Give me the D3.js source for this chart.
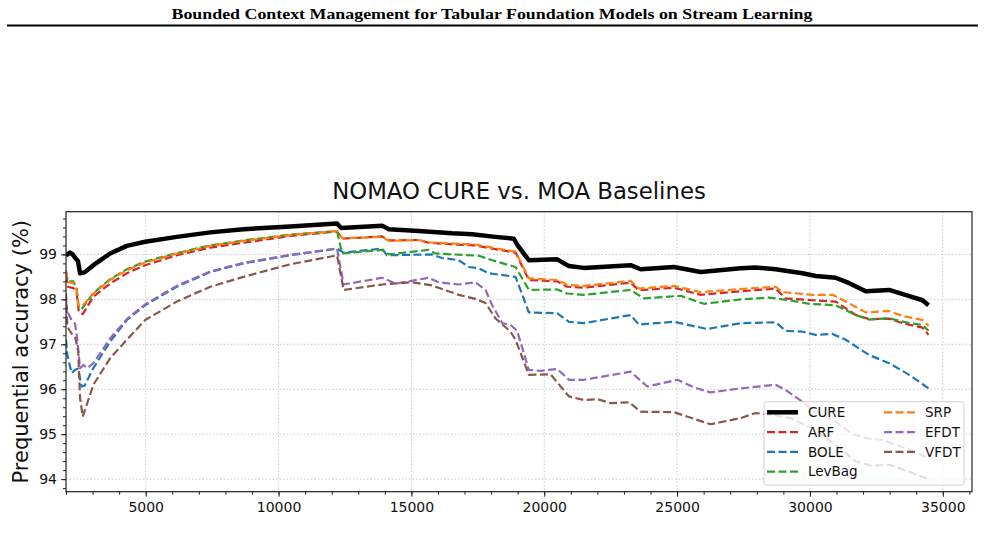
<!DOCTYPE html>
<html>
<head>
<meta charset="utf-8">
<script src="https://cdn.jsdelivr.net/npm/d3@7"></script>
<style>
  body { margin: 0; background: #fff; }
  svg { display: block; }
</style>
</head>
<body>
<div id="chart-area"></div>
<script>
// series data: [instances seen, prequential accuracy %]
var cure = [[2000,98.98],[2150,99.04],[2250,99.0],[2350,98.92],[2450,98.85],[2530,98.58],[2700,98.6],[3030,98.76],[3660,99.02],[4290,99.19],[4980,99.28],[6170,99.39],[7430,99.49],[8680,99.56],[10440,99.62],[12200,99.69],[12350,99.59],[13900,99.64],[14150,99.56],[15270,99.52],[16530,99.47],[17290,99.45],[18160,99.39],[18850,99.35],[19000,99.2],[19420,98.87],[20490,98.89],[20930,98.74],[21490,98.70],[23250,98.76],[23630,98.67],[24880,98.72],[25890,98.61],[27400,98.69],[27960,98.71],[28710,98.67],[29720,98.58],[30220,98.52],[30970,98.48],[31480,98.36],[32100,98.18],[32980,98.21],[33740,98.07],[34240,97.98],[34465,97.87]];
var arf = [[2000,98.55],[2070,98.28],[2280,98.25],[2400,98.15],[2480,97.72],[2630,97.67],[3030,98.06],[3660,98.35],[4290,98.58],[4980,98.76],[6170,98.98],[7430,99.15],[8680,99.26],[10440,99.41],[12200,99.51],[12400,99.35],[13900,99.40],[14150,99.31],[15270,99.32],[15650,99.26],[16660,99.22],[17410,99.20],[18040,99.13],[18920,99.04],[19420,98.43],[20490,98.40],[20860,98.28],[21490,98.26],[23250,98.37],[23560,98.20],[24880,98.26],[25890,98.10],[27400,98.18],[28710,98.24],[29090,98.02],[30100,97.98],[30970,97.95],[31730,97.65],[32230,97.56],[32980,97.57],[33490,97.47],[34240,97.37],[34465,97.21]];
var bole = [[2000,97.10],[2050,96.76],[2210,96.36],[2340,96.43],[2450,96.46],[2590,96.06],[2700,96.08],[3030,96.47],[3660,97.06],[4290,97.54],[4980,97.87],[6170,98.28],[7430,98.61],[8680,98.80],[10440,98.98],[12200,99.13],[12450,99.04],[13900,99.13],[14080,98.98],[15770,99.00],[16150,98.92],[16780,98.87],[17160,98.72],[17540,98.69],[17910,98.58],[18920,98.50],[19420,97.71],[20490,97.69],[20930,97.50],[21490,97.47],[23250,97.65],[23560,97.44],[24880,97.50],[26130,97.34],[27400,97.47],[28710,97.49],[29090,97.30],[29720,97.28],[30220,97.21],[30850,97.23],[31350,97.10],[32230,96.76],[32980,96.58],[33740,96.32],[34465,96.02]];
var levbag = [[2000,98.62],[2070,98.40],[2280,98.40],[2400,98.25],[2480,97.82],[2590,97.78],[3030,98.14],[3660,98.45],[4290,98.67],[4980,98.84],[6170,99.03],[7430,99.20],[8680,99.31],[10440,99.44],[12200,99.52],[12390,99.02],[13900,99.10],[14150,99.00],[15650,99.10],[15900,99.02],[17540,98.97],[18040,98.87],[18920,98.72],[19420,98.21],[20490,98.22],[20860,98.13],[21490,98.10],[23250,98.21],[23750,98.02],[25130,98.08],[26010,97.90],[27400,98.00],[28460,98.04],[29210,97.98],[29970,97.90],[30970,97.87],[31730,97.65],[32230,97.55],[32980,97.58],[33740,97.47],[34240,97.43],[34465,97.30]];
var srp = [[2000,98.65],[2070,98.38],[2280,98.36],[2400,98.21],[2460,97.87],[2590,97.84],[3030,98.13],[3660,98.43],[4290,98.65],[4980,98.82],[6170,99.02],[7430,99.19],[8680,99.30],[10440,99.43],[12200,99.52],[12400,99.36],[13900,99.39],[14150,99.30],[15270,99.32],[15650,99.27],[16660,99.24],[17410,99.22],[18040,99.15],[18920,99.06],[19420,98.47],[20490,98.43],[20860,98.32],[21490,98.30],[23250,98.41],[23560,98.24],[24880,98.30],[25890,98.16],[27400,98.23],[28710,98.28],[28970,98.16],[30100,98.10],[30850,98.10],[31350,97.95],[32100,97.71],[32980,97.74],[33490,97.63],[34240,97.54],[34465,97.41]];
var efdt = [[2000,97.95],[2050,97.73],[2210,97.54],[2340,97.46],[2420,97.13],[2530,96.47],[2650,96.54],[2800,96.47],[3030,96.58],[3660,97.13],[4290,97.56],[4980,97.89],[6170,98.30],[7430,98.62],[8680,98.81],[10440,98.99],[12200,99.13],[12450,98.33],[13900,98.48],[14400,98.35],[15650,98.48],[16030,98.38],[16780,98.33],[17410,98.38],[17790,98.21],[18040,97.87],[18420,97.47],[18730,97.43],[18980,97.30],[19420,96.43],[19850,96.41],[20490,96.45],[20930,96.21],[21490,96.21],[23250,96.39],[23880,96.06],[25010,96.21],[25640,96.04],[26260,95.93],[27400,96.02],[28710,96.10],[29090,95.98],[29720,95.72],[30220,95.50],[30970,95.28],[31600,95.00],[32230,94.90],[32730,94.87],[33240,94.76],[33990,94.60],[34465,94.45]];
var vfdt = [[2000,98.13],[2050,97.39],[2210,97.24],[2340,97.17],[2460,96.84],[2530,95.80],[2630,95.39],[3030,96.10],[3660,96.69],[4290,97.10],[4980,97.54],[6170,97.95],[7430,98.28],[8680,98.50],[10440,98.78],[12200,98.98],[12450,98.21],[13900,98.33],[15000,98.38],[15770,98.31],[16780,98.10],[17410,98.01],[17790,97.92],[18160,97.58],[18730,97.28],[18920,97.10],[19420,96.32],[20240,96.33],[20930,95.84],[21490,95.76],[22000,95.78],[22500,95.69],[23200,95.71],[23630,95.50],[24880,95.49],[26260,95.22],[27400,95.36],[27960,95.47],[28590,95.43],[29300,95.35],[30200,95.10],[31000,94.75],[31700,94.40],[32300,94.30],[33000,94.32],[33800,94.15],[34465,94.00]];

var names = ["CURE", "ARF", "BOLE", "LevBag", "SRP", "EFDT", "VFDT"];
var seriesValues = [cure, arf, bole, levbag, srp, efdt, vfdt];
var xTicks = [5000, 10000, 15000, 20000, 25000, 30000, 35000];
var yTicks = [94, 95, 96, 97, 98, 99];

var colors = ["#000000", "#d62728", "#1f77b4", "#2ca02c", "#ff7f0e", "#9467bd", "#8c564b"];

var svg = d3.select("#chart-area")
  .append("svg")
  .attr("width", 985)
  .attr("height", 539);

// page header
svg.append("text")
  .attr("x", 492)
  .attr("y", 19)
  .attr("text-anchor", "middle")
  .attr("font-family", "Liberation Serif, Times New Roman, serif")
  .attr("font-weight", "bold")
  .attr("font-size", "15px")
  .attr("textLength", 641)
  .attr("lengthAdjust", "spacingAndGlyphs")
  .text("Bounded Context Management for Tabular Foundation Models on Stream Learning");

svg.append("line")
  .attr("x1", 7).attr("x2", 978)
  .attr("y1", 25.5).attr("y2", 25.5)
  .attr("stroke", "#000")
  .attr("stroke-width", 2);

var margin = { top: 211.7, left: 66 };
var width = 972 - 66;
var height = 491.7 - 211.7;

var g = svg.append("g")
  .attr("transform", "translate(" + margin.left + "," + margin.top + ")")
  .attr("font-family", "DejaVu Sans, sans-serif");

var x = d3.scaleLinear()
  .domain([2000, 36100])
  .range([0, width]);

var y = d3.scaleLinear()
  .domain([93.72, 99.95])
  .range([height, 0]);

// grid
g.append("g")
  .selectAll("line")
  .data(xTicks)
  .enter()
  .append("line")
  .attr("x1", d => x(d)).attr("x2", d => x(d))
  .attr("y1", 0).attr("y2", height)
  .attr("stroke", "#b8b8b8")
  .attr("stroke-width", 0.8)
  .attr("stroke-dasharray", "1.5,2");

g.append("g")
  .selectAll("line")
  .data(yTicks)
  .enter()
  .append("line")
  .attr("x1", 0).attr("x2", width)
  .attr("y1", d => y(d)).attr("y2", d => y(d))
  .attr("stroke", "#b8b8b8")
  .attr("stroke-width", 0.8)
  .attr("stroke-dasharray", "1.5,2");

g.append("clipPath")
  .attr("id", "clip")
  .append("rect")
  .attr("width", width)
  .attr("height", height);

var line = d3.line()
  .x(d => x(d[0]))
  .y(d => y(d[1]));

g.append("g")
  .attr("clip-path", "url(#clip)")
  .selectAll("path")
  .data(seriesValues)
  .enter()
  .append("path")
  .attr("d", d => line(d))
  .attr("fill", "none")
  .attr("stroke", (d, i) => colors[i])
  .attr("stroke-width", (d, i) => i == 0 ? 4.5 : 2.2)
  .attr("stroke-dasharray", (d, i) => i == 0 ? null : "8,3.5")
  .attr("stroke-linejoin", "round");

// axes, minor ticks first
var minorX = d3.range(2000, 36001, 1000);
var minorY = d3.range(938, 1000, 2).map(d => d / 10);

g.append("g")
  .attr("transform", "translate(0," + height + ")")
  .call(d3.axisBottom(x).tickValues(minorX).tickSize(3).tickFormat(""))
  .call(a => a.select(".domain").remove());

g.append("g")
  .call(d3.axisLeft(y).tickValues(minorY).tickSize(3).tickFormat(""))
  .call(a => a.select(".domain").remove());

var xAxis = g.append("g")
  .attr("transform", "translate(0," + height + ")")
  .call(d3.axisBottom(x).tickValues(xTicks).tickSize(5).tickPadding(5).tickFormat(d3.format("d")));

var yAxis = g.append("g")
  .call(d3.axisLeft(y).tickValues(yTicks).tickSize(5).tickPadding(4).tickFormat(d3.format("d")));

g.selectAll(".tick line").attr("stroke", "#222").attr("stroke-width", 1);
g.selectAll(".tick text")
  .attr("font-family", "DejaVu Sans, sans-serif")
  .attr("font-size", "14px")
  .attr("fill", "#111");
xAxis.select(".domain").remove();
yAxis.select(".domain").remove();

g.append("rect")
  .attr("width", width)
  .attr("height", height)
  .attr("fill", "none")
  .attr("stroke", "#222")
  .attr("stroke-width", 1.2);

// title and label
g.append("text")
  .attr("x", width / 2)
  .attr("y", -13)
  .attr("text-anchor", "middle")
  .attr("font-size", "22.8px")
  .attr("fill", "#111")
  .text("NOMAO CURE vs. MOA Baselines");

g.append("text")
  .attr("x", -(height / 2))
  .attr("y", -38)
  .attr("text-anchor", "middle")
  .attr("transform", "rotate(-90)")
  .attr("font-size", "21px")
  .attr("fill", "#111")
  .text("Prequential accuracy (%)");

// legend, two columns
var legend = g.append("g")
  .attr("transform", "translate(" + (764 - margin.left) + "," + (401.7 - margin.top) + ")");

legend.append("rect")
  .attr("width", 200)
  .attr("height", 83.3)
  .attr("rx", 3)
  .attr("fill", "#fff")
  .attr("fill-opacity", 0.8)
  .attr("stroke", "#d0d0d0")
  .attr("stroke-width", 1);

var items = legend.selectAll(".item")
  .data(names)
  .enter()
  .append("g")
  .attr("class", "item")
  .attr("transform", (d, i) => {
    var col = i < 4 ? 0 : 1;
    var row = i < 4 ? i : i - 4;
    return "translate(" + (col == 0 ? 3 : 120) + "," + (10.6 + row * 19.8) + ")";
  });

items.append("line")
  .attr("x1", 0).attr("x2", 31)
  .attr("stroke", (d, i) => colors[i])
  .attr("stroke-width", (d, i) => i == 0 ? 4.5 : 2.2)
  .attr("stroke-dasharray", (d, i) => i == 0 ? null : "8,3.5");

items.append("text")
  .attr("x", 41)
  .attr("dy", "0.35em")
  .attr("font-size", "13.5px")
  .attr("fill", "#111")
  .text(d => d);
</script>
</body>
</html>
